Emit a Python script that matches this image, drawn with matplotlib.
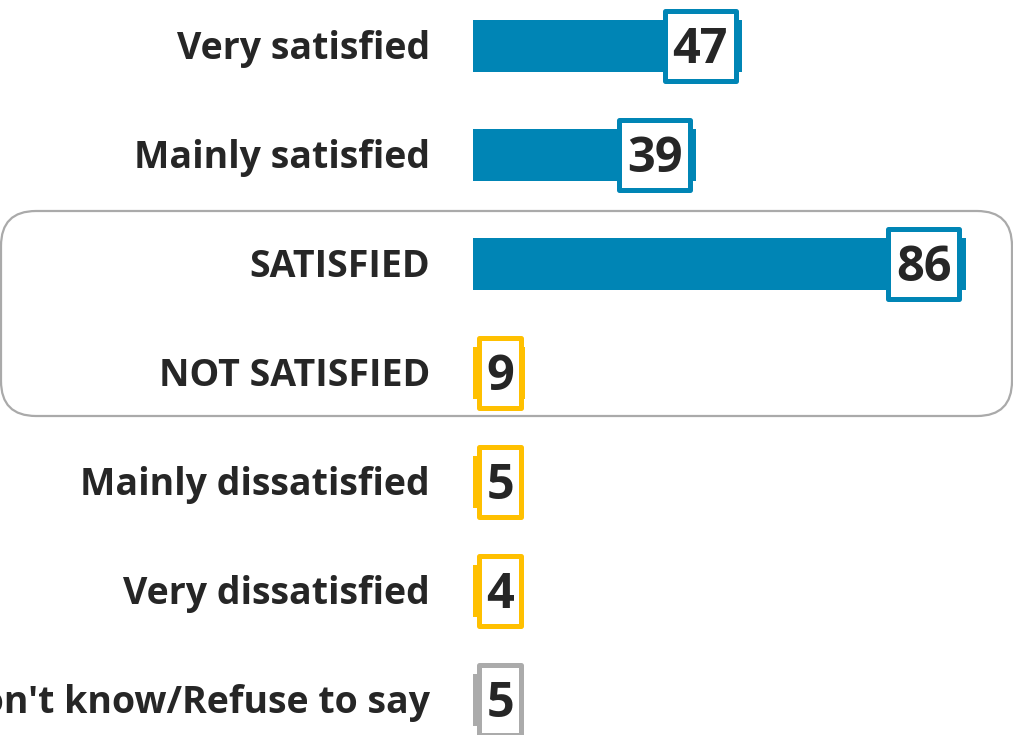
import matplotlib.pyplot as plt
from matplotlib.patches import Rectangle, FancyBboxPatch

plt.rcParams['font.family'] = ['Open Sans', 'DejaVu Sans']

categories = ['Very satisfied', 'Mainly satisfied', 'SATISFIED', 'NOT SATISFIED',
              'Mainly dissatisfied', 'Very dissatisfied', "Don't know/Refuse to say"]
values = [47, 39, 86, 9, 5, 4, 5]
colors = ['#0085B5', '#0085B5', '#0085B5', '#FFC000', '#FFC000', '#FFC000', '#ABABAB']

W, H = 1013, 735
fig = plt.figure(figsize=(W / 100, H / 100), dpi=100)
ax = fig.add_axes([0, 0, 1, 1])

px_x = 5.73      # pixels per value unit
px_y = 109       # pixels per row
x0_px, y0_px = 473, 46
ax.set_xlim(-x0_px / px_x, (W - x0_px) / px_x)
ax.set_ylim((H - y0_px) / px_y, -y0_px / px_y)
ax.axis('off')

ypos = list(range(len(categories)))
ax.barh(ypos, values, height=52 / px_y, color=colors, zorder=2)

min_right = 9
lw_px = 5
for y, v, c, lab in zip(ypos, values, colors, categories):
    bw = (76 if v >= 10 else 47) - lw_px
    bh = 75 - lw_px
    right = max(v - (lw_px / 2 + 4) / px_x, min_right - (lw_px / 2 + 1) / px_x)
    w = bw / px_x
    h = bh / px_y
    ax.add_patch(Rectangle((right - w, y - h / 2), w, h, facecolor='white',
                           edgecolor=c, lw=lw_px * 0.72, joinstyle='round', zorder=3))
    ax.text(right - w / 2, y + 0.045, str(v), ha='center', va='center', fontsize=35,
            fontweight='bold', color='#262626', zorder=4)
    ax.text(-7.5, y + 0.03, lab, ha='right', va='center', fontsize=27,
            fontweight='bold', color='#262626')

r = 35
box = FancyBboxPatch((1 / W, (H - 416) / H), 1011 / W, 205 / H,
                     boxstyle=f'round,pad=0,rounding_size={r / W}',
                     mutation_aspect=W / H, transform=fig.transFigure,
                     facecolor='none', edgecolor='#AAAAAA', lw=1.6, zorder=1)
fig.patches.append(box)

fig.savefig('out.png', dpi=100)
